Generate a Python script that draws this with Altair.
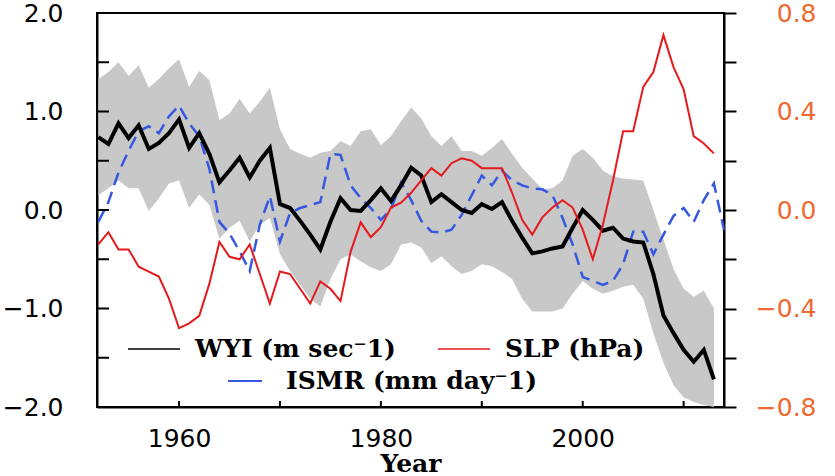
import altair as alt
import pandas as pd

# ---------------- data ----------------
years = list(range(1952, 2014))
years_ismr = list(range(1952, 2015))

wyi = [0.74, 0.67, 0.88, 0.73, 0.86, 0.62, 0.68, 0.78, 0.92, 0.63,
       0.78, 0.57, 0.28, 0.40, 0.53, 0.33, 0.50, 0.63, 0.06, 0.02,
       -0.11, -0.25, -0.40, -0.12, 0.12, 0.00, -0.01, 0.10, 0.22, 0.09,
       0.25, 0.43, 0.35, 0.08, 0.16, 0.08, 0.00, -0.03, 0.06, 0.01,
       0.08, -0.11, -0.28, -0.44, -0.42, -0.39, -0.37, -0.18, 0.00, -0.10,
       -0.21, -0.18, -0.29, -0.32, -0.33, -0.65, -1.07, -1.25, -1.42, -1.54,
       -1.42, -1.72]

slp = [-0.14, -0.09, -0.16, -0.16, -0.23, -0.25, -0.27, -0.36, -0.48, -0.46,
       -0.43, -0.30, -0.13, -0.19, -0.20, -0.14, -0.26, -0.38, -0.25, -0.26,
       -0.32, -0.38, -0.29, -0.32, -0.37, -0.17, -0.05, -0.11, -0.07, 0.01,
       0.03, 0.07, 0.12, 0.17, 0.14, 0.19, 0.21, 0.20, 0.17, 0.17,
       0.17, 0.07, -0.04, -0.10, -0.03, 0.01, 0.04, 0.01, -0.08, -0.20,
       -0.06, 0.12, 0.32, 0.32, 0.50, 0.56, 0.71, 0.58, 0.49, 0.30,
       0.27, 0.23]

ismr = [-0.12, 0.08, 0.38, 0.60, 0.80, 0.85, 0.78, 0.95, 1.06, 0.88,
        0.75, 0.42, -0.12, -0.24, -0.42, -0.62, -0.15, 0.14, -0.32, -0.03,
        0.02, 0.05, 0.08, 0.57, 0.56, 0.25, 0.12, 0.02, -0.10, 0.01,
        0.28, 0.10, -0.11, -0.22, -0.23, -0.20, -0.05, 0.15, 0.35, 0.25,
        0.40, 0.30, 0.25, 0.22, 0.21, 0.15, -0.08, -0.35, -0.68, -0.72,
        -0.76, -0.72, -0.55, -0.22, -0.22, -0.45, -0.25, -0.06, 0.02, -0.12,
        0.10, 0.27, -0.20]

band_upper = [1.33, 1.40, 1.50, 1.36, 1.47, 1.24, 1.33, 1.44, 1.53, 1.25,
              1.41, 1.32, 0.91, 0.98, 1.13, 0.98, 1.10, 1.24, 0.82, 0.62,
              0.57, 0.53, 0.58, 0.60, 0.70, 0.65, 0.80, 0.82, 0.66, 0.75,
              0.90, 1.04, 0.93, 0.75, 0.65, 0.75, 0.60, 0.60, 0.55, 0.63,
              0.72, 0.57, 0.43, 0.32, 0.21, 0.22, 0.30, 0.55, 0.62, 0.53,
              0.40, 0.34, 0.32, 0.31, 0.30, 0.00, -0.30, -0.60, -0.80, -0.88,
              -0.82, -1.00]

band_lower = [0.15, 0.22, 0.30, 0.22, 0.22, -0.01, 0.12, 0.27, 0.30, 0.02,
              0.16, 0.05, -0.29, -0.18, -0.11, -0.32, -0.15, -0.08, -0.45, -0.62,
              -0.76, -0.90, -0.98, -0.70, -0.50, -0.45, -0.52, -0.58, -0.62, -0.55,
              -0.35, -0.33, -0.38, -0.54, -0.47, -0.57, -0.65, -0.62, -0.55, -0.57,
              -0.63, -0.70, -0.90, -1.03, -1.03, -1.03, -1.00, -0.85, -0.72, -0.80,
              -0.85, -0.82, -0.78, -0.76, -0.90, -1.25, -1.55, -1.78, -1.90, -1.95,
              -1.98, -2.00]

x_label_values = [1960, 1980, 2000]
x_tick_values = [1960, 1970, 1980, 1990, 2000, 2010]
left_label_values = [-2.0, -1.0, 0.0, 1.0, 2.0]
left_tick_values = [-1.5, -1.0, -0.5, 0.0, 0.5, 1.0, 1.5]
right_tick_values = [-0.8, -0.6, -0.4, -0.2, 0.0, 0.2, 0.4, 0.6, 0.8]

legend_labels = ["WYI (m sec\u207b1)", "SLP (hPa)", "ISMR (mm day\u207b1)"]

# ---------------- frames ----------------
df = pd.DataFrame({"year": years, "wyi": wyi, "slp": slp,
                   "upper": band_upper, "lower": band_lower})
df_ismr = pd.DataFrame({"year": years_ismr, "ismr": ismr})
df_lt = pd.DataFrame({"year": [1990] * len(left_tick_values), "v": left_tick_values})
df_xt = pd.DataFrame({"year": x_tick_values})
one = pd.DataFrame({"a": [0]})

W, H = 627, 394
xs = alt.Scale(domain=[1951.87, 2014.0], nice=False, zero=False)
ys = alt.Scale(domain=[-2.0, 2.0], nice=False, zero=False)
ys_r = alt.Scale(domain=[-0.8, 0.8], nice=False, zero=False)

SANS = "DejaVu Sans"
SERIF = "DejaVu Serif"

x_axis = alt.Axis(values=x_label_values, format="d", title="Year",
                  tickSize=0, labelPadding=19, labelFont=SANS, labelFontSize=25,
                  labelColor="black", labelFlush=False, grid=False,
                  domainColor="black", domainWidth=2,
                  titleFont=SERIF, titleFontWeight="bold", titleFontSize=25,
                  titleColor="black", titleY=64, titleBaseline="alphabetic")

y_axis_left = alt.Axis(values=left_label_values, format=".1f", title=None,
                       tickSize=0, labelPadding=34, labelFont=SANS, labelFontSize=25,
                       labelColor="black", labelFlush=False, grid=False,
                       domainColor="black", domainWidth=2)

y_axis_right = alt.Axis(orient="right", values=right_tick_values, format=".1f",
                        title=None, tickSize=12, tickWidth=2, tickColor="black",
                        labelExpr="(round(datum.value*10) % 4 == 0) ? datum.label : ''",
                        labelAlign="right", labelPadding=80, labelFont=SANS,
                        labelFontSize=25, labelColor="#ee6a33", labelFlush=False,
                        labelOverlap=False, grid=False,
                        domainColor="black", domainWidth=2)

X = alt.X("year:Q", scale=xs, axis=x_axis, title="Year")

band = alt.Chart(df).mark_area(color="#c8c8c8").encode(
    x=X,
    y=alt.Y("upper:Q", scale=ys, axis=y_axis_left, title=None),
    y2="lower:Q",
)

ismr_line = alt.Chart(df_ismr).mark_line(
    color="#3558e0", strokeWidth=2.5, strokeDash=[13, 7]
).encode(
    x=X,
    y=alt.Y("ismr:Q", scale=ys, axis=y_axis_left, title=None),
)

wyi_line = alt.Chart(df).mark_line(color="black", strokeWidth=4).encode(
    x=X,
    y=alt.Y("wyi:Q", scale=ys, axis=y_axis_left, title=None),
)

left_ticks = alt.Chart(df_lt).mark_rule(color="black", strokeWidth=2).encode(
    y=alt.Y("v:Q", scale=ys, axis=y_axis_left, title=None),
    x=alt.value(0), x2=alt.value(12),
)

bottom_ticks = alt.Chart(df_xt).mark_rule(color="black", strokeWidth=2).encode(
    x=X,
    y=alt.value(H), y2=alt.value(H - 6),
)

def leg_line(color, x1, x2, y, width=1.6):
    return alt.Chart(one).mark_rule(color=color, strokeWidth=width).encode(
        x=alt.value(x1), x2=alt.value(x2), y=alt.value(y))

def leg_text(label, x, y):
    return alt.Chart(one).mark_text(
        align="left", baseline="middle", font=SERIF, fontWeight="bold",
        fontSize=25, color="black"
    ).encode(x=alt.value(x), y=alt.value(y), text=alt.value(label))

legend = [
    leg_line("black", 31, 83, 336),
    leg_text(legend_labels[0], 98, 336),
    leg_line("#e41a1c", 341, 393, 336),
    leg_text(legend_labels[1], 408, 336),
    leg_line("#3558e0", 131, 165, 368, 2.2),
    leg_text(legend_labels[2], 189, 368),
]

left_group = alt.layer(band, ismr_line, wyi_line, left_ticks, bottom_ticks, *legend)

slp_line = alt.Chart(df).mark_line(color="#e41a1c", strokeWidth=2).encode(
    x=X,
    y=alt.Y("slp:Q", scale=ys_r, axis=y_axis_right, title=None),
)

chart = alt.layer(left_group, slp_line).resolve_scale(
    y="independent"
).properties(
    width=W, height=H,
    autosize=alt.AutoSizeParams(type="none"),
    padding={"left": 97, "top": 13, "right": 111, "bottom": 69},
    background="white",
).configure_view(stroke="black", strokeWidth=2)

chart.save("out.html", embed_options={"renderer": "svg", "actions": False})
